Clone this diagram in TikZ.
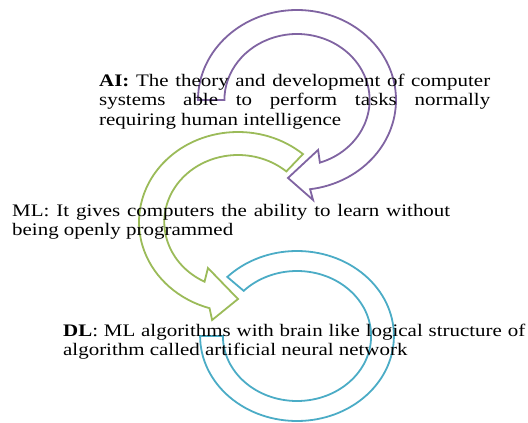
\documentclass[tikz,border=0pt]{standalone}
\usepackage{fontspec}
\setmainfont[FakeStretch=1.19]{Liberation Serif}
\definecolor{purp}{HTML}{8064A2}
\definecolor{grn}{HTML}{9BBB59}
\definecolor{blu}{HTML}{4BACC6}
\begin{document}
\begin{tikzpicture}[x=1pt,y=-1pt,
  arr/.style={line width=1.8pt, fill=white, line join=miter},
  txt/.style={anchor=base west, inner sep=0pt, text=black, font=\fontsize{17.6}{19.5}\selectfont}]
\useasboundingbox (0,0) rectangle (528,423);
% purple circular arrow
\begin{scope}[shift={(297,100)}, xscale=1.1]
\draw[arr, draw=purp] (180:90) arc[start angle=180, end angle=442.4, radius=90]
  -- (441.7:101) -- (456:78.4) -- (429:53.5) -- (431.6:66)
  arc[start angle=431.6, end angle=180, radius=66] -- cycle;
\end{scope}
% green circular arrow
\begin{scope}[shift={(238,222)}, xscale=1.1]
\draw[arr, draw=grn] (-49:90) arc[start angle=-49, end angle=-253.3, radius=90]
  -- (-256.5:100.8) -- (-270:77) -- (-239.3:53.5) -- (-243:67)
  arc[start angle=-243, end angle=-49, radius=67] -- cycle;
\end{scope}
% blue ring
\begin{scope}[shift={(297,336)}, xscale=1.14]
\draw[arr, draw=blu] (-136:85) arc[start angle=-136, end angle=180, radius=85]
  -- (180:65) arc[start angle=180, end angle=-136, radius=65] -- cycle;
\end{scope}
% texts
\node[txt] (ai1) at (99,86) {\makebox[391pt][s]{\textbf{AI:} The theory and development of computer}};
\node[txt] (ai2) at (99,105.5) {\makebox[391pt][s]{systems able to perform tasks normally}};
\node[txt] (ai3) at (99,125) {requiring human intelligence};
\node[txt] (ml1) at (12,216) {\makebox[438pt][s]{ML: It gives computers the ability to learn without}};
\node[txt] (ml2) at (12,235.5) {being openly programmed};
\node[txt] (dl1) at (63,336) {\makebox[462pt][s]{\textbf{DL}: ML algorithms with brain like logical structure of}};
\node[txt] (dl2) at (63,355.5) {algorithm called artificial neural network};
\end{tikzpicture}
\end{document}
